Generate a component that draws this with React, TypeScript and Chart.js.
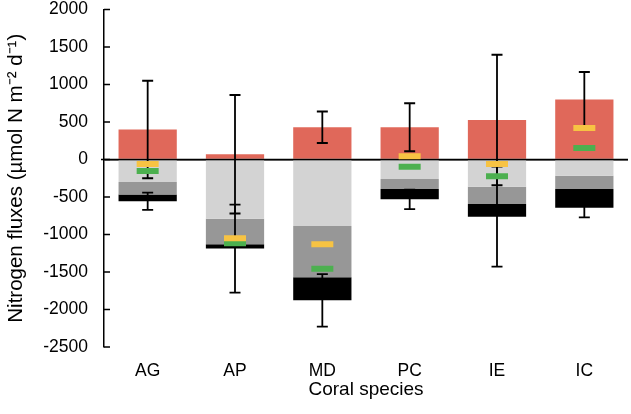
import React, { useEffect, useRef } from 'react';
import { Chart, registerables } from 'chart.js';

Chart.register(...registerables);

const species = ['AG', 'AP', 'MD', 'PC', 'IE', 'IC'];
const redValues = [400, 70, 430, 430, 527, 800];
const lightGreyValues = [-300, -790, -887, -260, -362, -216];
const darkGreyValues = [-165, -340, -684, -133, -231, -177];
const blackValues = [-92, -58, -306, -138, -169, -250];
const redErrors = [650, 790, 210, 320, 870, 367];
const totalErrors = [115, 586, 350, 130, 667, 128];
const yellowMarks = [-60, -1051, -1131, 43, -60, 420];
const greenMarks = [-153, -1117, -1456, -96, -224, 153];
const yTicks = [-2500, -2000, -1500, -1000, -500, 0, 500, 1000, 1500, 2000];

const FONT = "'Liberation Sans', Arial, Helvetica, sans-serif";

const errorBarPlugin = {
  id: 'errorBars',
  beforeDatasetDraw(chart: any, args: any) {
    if (args.index !== 1) return;
    const ctx = chart.ctx;
    const xs = chart.scales.x;
    const ys = chart.scales.y;
    const area = chart.chartArea;
    ctx.save();
    // zero line over bars
    ctx.strokeStyle = '#000';
    ctx.lineWidth = 1.5;
    const y0 = ys.getPixelForValue(0);
    ctx.beginPath();
    ctx.moveTo(area.left - 3, y0);
    ctx.lineTo(area.right, y0);
    ctx.stroke();

    const cap = 5.5;
    const drawBar = (x: number, v: number, e: number) => {
      const yt = ys.getPixelForValue(v + e);
      const yb = ys.getPixelForValue(v - e);
      ctx.beginPath();
      ctx.moveTo(x, yt);
      ctx.lineTo(x, yb);
      ctx.moveTo(x - cap, yt);
      ctx.lineTo(x + cap, yt);
      ctx.moveTo(x - cap, yb);
      ctx.lineTo(x + cap, yb);
      ctx.stroke();
    };
    ctx.lineWidth = 1.8;
    species.forEach((_, i) => {
      const x = xs.getPixelForValue(i);
      drawBar(x, redValues[i], redErrors[i]);
      const total = lightGreyValues[i] + darkGreyValues[i] + blackValues[i];
      drawBar(x, total, totalErrors[i]);
    });
    ctx.restore();
  },
  afterDraw(chart: any) {
    const ctx = chart.ctx;
    const ys = chart.scales.y;
    const left = chart.chartArea.left;
    ctx.save();
    ctx.strokeStyle = '#000';
    ctx.lineWidth = 1.5;
    ctx.beginPath();
    yTicks.forEach((t) => {
      const y = ys.getPixelForValue(t);
      ctx.moveTo(left, y);
      ctx.lineTo(left + 6, y);
    });
    ctx.stroke();
    ctx.restore();
  },
};

export default function App() {
  const ref = useRef<HTMLCanvasElement | null>(null);
  useEffect(() => {
    if (!ref.current) return;
    const markerDs = (label: string, data: number[], color: string, stack: string) => ({
      type: 'line' as const,
      label,
      data,
      order: 1,
      stack,
      showLine: false,
      pointStyle: 'line',
      pointRadius: 11,
      pointHoverRadius: 11,
      pointBorderWidth: 6,
      pointHoverBorderWidth: 6,
      borderColor: color,
      backgroundColor: color,
      pointBorderColor: color,
    });
    const barDs = (label: string, data: number[], color: string) => ({
      type: 'bar' as const,
      label,
      data,
      order: 2,
      stack: 'bars',
      backgroundColor: color,
      borderWidth: 0,
      categoryPercentage: 1,
      barPercentage: 0.667,
    });
    const chart = new Chart(ref.current, {
      type: 'bar',
      data: {
        labels: species,
        datasets: [
          markerDs('Yellow', yellowMarks, '#f7c343', 'm1'),
          markerDs('Green', greenMarks, '#4cb04f', 'm2'),
          barDs('Red', redValues, '#e0685a'),
          barDs('Light grey', lightGreyValues, '#d3d3d3'),
          barDs('Dark grey', darkGreyValues, '#979797'),
          barDs('Black', blackValues, '#000000'),
        ] as any,
      },
      options: {
        animation: false,
        responsive: true,
        maintainAspectRatio: false,
        layout: { autoPadding: false, padding: { top: 9.5, right: 3, left: 0, bottom: 0 } },
        plugins: {
          legend: { display: false },
          tooltip: { enabled: false },
        },
        scales: {
          x: {
            stacked: true,
            grid: { display: false, drawTicks: false },
            border: { display: false },
            ticks: { color: '#000', padding: 13.5, font: { family: FONT, size: 17.5 } },
            title: {
              display: true,
              text: 'Coral species',
              color: '#000',
              font: { family: FONT, size: 19 },
              padding: { top: 0, bottom: 12.5 },
            },
            afterFit: (s: any) => {
              s.height = 67;
              s.paddingLeft = 0;
              s.paddingRight = 0;
            },
          },
          y: {
            stacked: true,
            min: -2500,
            max: 2000,
            afterBuildTicks: (s: any) => {
              s.ticks = yTicks.map((v) => ({ value: v }));
            },
            grid: {
              drawTicks: false,
              color: (c: any) => (c.tick && c.tick.value === 0 ? '#000' : 'rgba(0,0,0,0)'),
              lineWidth: 1.5,
            },
            border: { display: true, color: '#000', width: 1.5 },
            ticks: {
              color: '#000',
              padding: 16,
              font: { family: FONT, size: 17.5 },
              callback: (v: any) => String(v),
            },
            title: {
              display: true,
              text: 'Nitrogen fluxes (µmol N m⁻² d⁻¹)',
              color: '#000',
              font: { family: FONT, size: 20.5 },
              padding: { top: 4, bottom: 4 },
            },
            afterFit: (s: any) => {
              s.width = 104;
              s.paddingTop = 0;
              s.paddingBottom = 0;
            },
          },
        },
      },
      plugins: [errorBarPlugin],
    });
    return () => chart.destroy();
  }, []);
  return (
    <div style={{ position: 'absolute', left: 0, top: 0, width: 631, height: 414 }}>
      <canvas ref={ref} />
    </div>
  );
}
